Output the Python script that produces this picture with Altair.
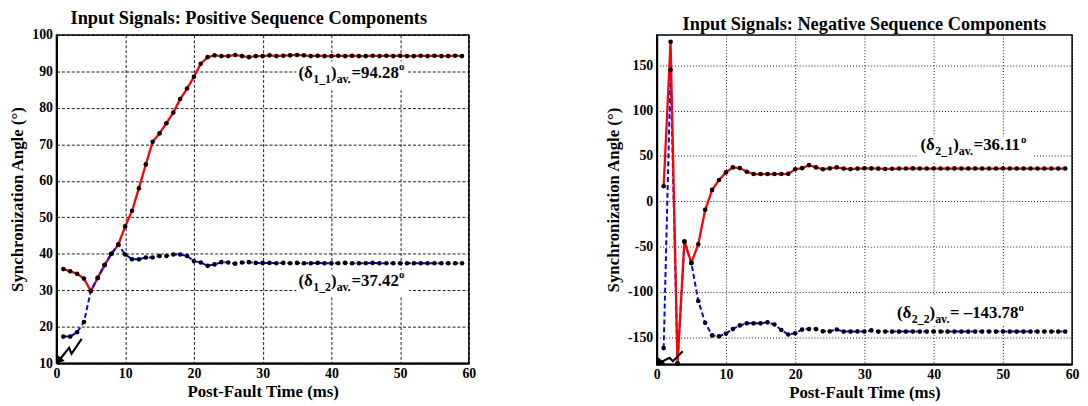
import altair as alt
import pandas as pd

SERIF = "Liberation Serif"

# ---------------- data ----------------
t_ms = list(range(1, 60))

pos_11 = [35.8, 35.2, 34.5, 33.2, 29.8, 33.4, 36.9, 40.0, 42.5, 47.5,
          51.8, 58.0, 64.5, 70.7, 73.0, 75.8, 78.7, 82.4, 85.3, 88.5,
          92.1, 93.9, 94.4, 94.2, 94.2, 94.5, 94.2, 93.9, 94.2, 94.2,
          94.4, 94.2, 94.3, 94.4, 94.5, 94.4, 94.2, 94.3, 94.2, 94.2,
          94.3, 94.2, 94.3, 94.2, 94.2, 94.3, 94.2, 94.3, 94.2, 94.3,
          94.2, 94.2, 94.3, 94.2, 94.3, 94.2, 94.2, 94.3, 94.2]

pos_12 = [17.3, 17.3, 18.5, 21.3, 29.8, 33.4, 36.9, 40.0, 42.5, 39.8,
          38.5, 38.5, 39.0, 39.0, 39.4, 39.4, 39.8, 39.8, 39.4, 38.0,
          37.6, 36.7, 37.1, 37.7, 37.6, 37.3, 37.6, 37.7, 37.5, 37.5,
          37.5, 37.4, 37.5, 37.4, 37.5, 37.4, 37.4, 37.5, 37.4, 37.4,
          37.4, 37.5, 37.4, 37.4, 37.4, 37.5, 37.4, 37.4, 37.4, 37.4,
          37.4, 37.4, 37.4, 37.4, 37.4, 37.4, 37.4, 37.4, 37.4]

neg_21 = [16.5, 176.0, -179.0, -44.5, -68.0, -47.5, -9.5, 12.5, 23.5, 31.8,
          37.3, 36.6, 32.6, 30.0, 30.0, 30.0, 30.0, 30.0, 30.2, 35.3,
          36.5, 39.8, 37.3, 35.3, 36.3, 37.3, 36.0, 35.5, 36.0, 36.3,
          36.2, 36.0, 35.6, 35.8, 36.1, 36.1, 36.2, 36.1, 36.1, 36.1,
          36.1, 36.1, 36.2, 36.1, 36.1, 36.1, 36.1, 36.1, 36.1, 36.1,
          36.1, 36.1, 36.1, 36.1, 36.1, 36.1, 36.1, 36.1, 36.1]

neg_22 = [-162.0, 145.0, -179.0, -44.5, -68.0, -110.0, -134.0, -148.0, -149.0, -146.0,
          -141.0, -137.0, -134.7, -134.7, -134.7, -133.6, -136.0, -142.0, -147.0, -145.6,
          -141.6, -141.0, -141.0, -143.5, -143.5, -141.5, -143.8, -143.8, -143.6, -143.8,
          -142.5, -143.8, -143.8, -143.8, -143.8, -143.8, -143.8, -143.8, -143.8, -143.8,
          -143.8, -143.8, -143.8, -143.8, -143.8, -143.8, -143.8, -143.8, -143.8, -143.8,
          -143.8, -143.8, -143.8, -143.8, -143.8, -143.8, -143.8, -143.8, -143.8]

x_ticks = [0, 10, 20, 30, 40, 50, 60]
pos_y_ticks = [10, 20, 30, 40, 50, 60, 70, 80, 90, 100]
neg_y_ticks = [-150, -100, -50, 0, 50, 100, 150]

# fault marker (zig-zag arrow) in data units
pos_arrow_t = [3.67, 2.19, 1.84, 0.3]
pos_arrow_v = [16.7, 12.6, 14.2, 10.6]
neg_arrow_t = [3.76, 2.33, 1.86, 0.3]
neg_arrow_v = [-165.4, -176.4, -172.7, -178.6]

# annotation anchors (data units) and their white backgrounds
pos_labels = [
    dict(t=35.2, v=88.1, sub="1_1", value="=94.28", box=(34.9, 51.0, 92.7, 84.8)),
    dict(t=35.2, v=31.2, sub="1_2", value="=37.42", box=(34.9, 51.3, 35.6, 28.2)),
]
neg_labels = [
    dict(t=38.1, v=56.0, sub="2_1", value="=36.11", box=(37.6, 54.4, 71.7, 44.3)),
    dict(t=34.7, v=-129.3, sub="2_2", value="= \u2013143.78", box=(34.4, 54.9, -104.6, -137.4)),
]

# Times-Bold advance widths (per 1000 em) for layout of the rich labels
W = {"(": 333, ")": 333, "\u03b4": 550, "_": 500, ".": 250, "=": 570, " ": 250,
     "\u2013": 500, "a": 500, "v": 500, "o": 500}


def text_width(s, size):
    return sum(W.get(c, 500) for c in s) * size / 1000.0


def build_panel(s1, s2, title, y_dom, y_ticks, grid_dash, arrow_t, arrow_v,
                labels, blue_on_top, width, height, title_dx):
    df1 = pd.DataFrame({"t": t_ms, "value": s1})
    df2 = pd.DataFrame({"t": t_ms, "value": s2})
    xs = alt.Scale(domain=[0, 60], nice=False, zero=False)
    ys = alt.Scale(domain=y_dom, nice=False, zero=False)
    X = alt.X("t:Q", scale=xs, title="Post-Fault Time (ms)",
              axis=alt.Axis(values=x_ticks, gridDash=grid_dash, labelFlush=False))
    Y = alt.Y("value:Q", scale=ys, title="Synchronization Angle (\u00b0)",
              axis=alt.Axis(values=y_ticks, gridDash=grid_dash, labelExpr="datum.value + ''"))

    layers = []
    # white boxes behind labels
    boxes = pd.DataFrame({
        "t": [l["box"][0] for l in labels], "t2": [l["box"][1] for l in labels],
        "value": [l["box"][2] for l in labels], "value2": [l["box"][3] for l in labels]})
    layers.append(alt.Chart(boxes).mark_rect(color="white").encode(
        x=X, x2="t2:Q", y=Y, y2="value2:Q"))

    red = alt.Chart(df1).mark_line(color="#ff0000", strokeWidth=2.3).encode(x=X, y=Y)
    blue = alt.Chart(df2).mark_line(color="#0000ff", strokeWidth=2, strokeDash=[5, 3]).encode(x=X, y=Y)
    layers += [red, blue] if blue_on_top else [blue, red]
    pts = alt.Chart(pd.concat([df1, df2])).mark_circle(color="black", size=22, opacity=1).encode(x=X, y=Y)
    layers.append(pts)

    # fault arrow
    adf = pd.DataFrame({"t": arrow_t, "value": arrow_v, "o": list(range(len(arrow_t)))})
    layers.append(alt.Chart(adf).mark_line(color="black", strokeWidth=2.2).encode(x=X, y=Y, order="o:Q"))
    layers.append(alt.Chart(adf.tail(1)).mark_point(shape="triangle-up", filled=True, color="black",
                                                    size=90, angle=219, opacity=1).encode(x=X, y=Y))

    # rich labels
    for l in labels:
        pieces = [("(\u03b4", 17, 0), (l["sub"], 12, 5), (")", 17, 0), ("av.", 12, 5),
                  (l["value"], 17, 0), ("o", 11, -8)]
        dx = 0.0
        for txt, size, dy in pieces:
            d = pd.DataFrame({"t": [l["t"]], "value": [l["v"]], "txt": [txt]})
            layers.append(alt.Chart(d).mark_text(
                align="left", baseline="alphabetic", dx=dx, dy=dy, fontSize=size,
                font=SERIF, fontWeight="bold", color="black").encode(x=X, y=Y, text="txt:N"))
            dx += text_width(txt, size)

    return alt.layer(*layers).properties(
        width=width, height=height,
        title=alt.TitleParams(title, offset=1, dx=title_dx))


left = build_panel(pos_11, pos_12, "Input Signals: Positive Sequence Components",
                   [10, 100], pos_y_ticks, [3, 2], pos_arrow_t, pos_arrow_v,
                   pos_labels, True, 417, 332, -14)
right = build_panel(neg_21, neg_22, "Input Signals: Negative Sequence Components",
                    [-179.8, 183.5], neg_y_ticks, [1, 2], neg_arrow_t, neg_arrow_v,
                    neg_labels, False, 420, 333, 0)

chart = alt.hconcat(left, right, spacing=128).properties(
    padding={"left": 0, "top": -3, "right": 0, "bottom": 0}
).configure_axis(
    labelFont=SERIF, labelFontSize=14, labelFontWeight="bold", labelColor="black",
    titleFont=SERIF, titleFontSize=17, titleFontWeight="bold", titleColor="black",
    domainColor="black", domainWidth=2, ticks=False,
    gridColor="black", gridOpacity=0.9, gridWidth=1,
).configure_axisY(titlePadding=5, labelPadding=4).configure_axisX(titlePadding=4, labelPadding=3).configure_view(
    stroke="black", strokeWidth=1.5
).configure_title(
    font=SERIF, fontSize=18.5, fontWeight="bold", color="black"
)

chart.save("out.html", embed_options={"renderer": "svg", "actions": False})
